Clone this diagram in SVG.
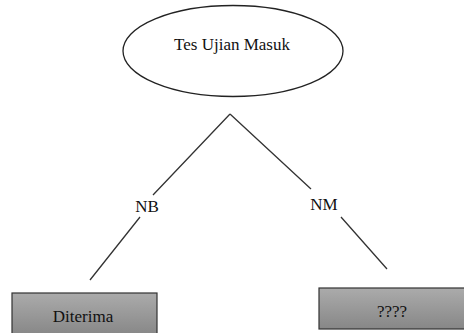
<svg xmlns="http://www.w3.org/2000/svg" width="464" height="333" viewBox="0 0 464 333">
<style>
.t{font-size:17px;fill:#111;text-anchor:middle}
.ln{stroke:#333;stroke-width:1.3;fill:none}
.box{fill:url(#g);stroke:#333;stroke-width:1.2}
</style>
<defs>
<linearGradient id="g" x1="0" y1="0" x2="0" y2="1">
<stop offset="0" stop-color="#ababab"/>
<stop offset="1" stop-color="#878787"/>
</linearGradient>
</defs>
<rect width="464" height="333" fill="#fff"/>
<g id="root">
<ellipse cx="233" cy="51" rx="110" ry="45.5" fill="#fff" stroke="#222" stroke-width="1.3"/>
<text class="t" font-family="Liberation Serif, DejaVu Serif, serif" x="232" y="50">Tes Ujian Masuk</text>
</g>
<g id="connectors">
<path class="ln" d="M230,114 L153,195 M140,217 L90,280"/>
<path class="ln" d="M230,114 L311,189 M341,217 L387,269"/>
<text class="t" font-family="Liberation Serif, DejaVu Serif, serif" x="147" y="212">NB</text>
<text class="t" font-family="Liberation Serif, DejaVu Serif, serif" x="324" y="210">NM</text>
</g>
<g id="diterima">
<rect class="box" x="12" y="293" width="145" height="42"/>
<text class="t" font-family="Liberation Serif, DejaVu Serif, serif" x="83" y="322">Diterima</text>
</g>
<g id="unknown">
<rect class="box" x="319" y="288" width="146" height="41"/>
<text class="t" font-family="Liberation Serif, DejaVu Serif, serif" x="392" y="317">????</text>
</g>
</svg>
